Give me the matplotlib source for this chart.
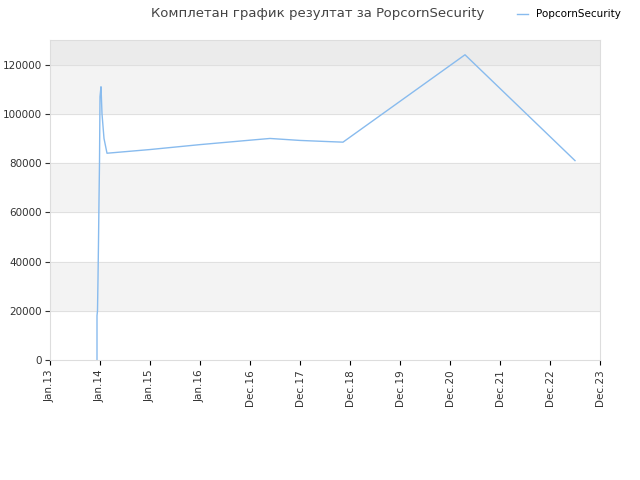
import matplotlib
matplotlib.use("Agg")
import matplotlib.pyplot as plt

tick_labels = ["Jan.13", "Jan.14", "Jan.15", "Jan.16", "Dec.16", "Dec.17",
               "Dec.18", "Dec.19", "Dec.20", "Dec.21", "Dec.22", "Dec.23"]
# x in tick units (0 = Jan.13, 1 = Jan.14, ...)
x = [0.94, 0.94, 0.95, 0.96, 0.97, 0.98, 0.99, 1.0, 1.02, 1.04, 1.08, 1.14,
     2.0, 3.0, 4.0, 4.4, 5.0, 5.6, 5.86, 8.3, 10.5]
y = [0, 18000, 20000, 33000, 48000, 65000, 80000, 107000, 111000, 100000, 90000, 84000,
     85500, 87500, 89300, 90000, 89200, 88700, 88500, 124000, 81000]

fig = plt.figure(figsize=(6.4, 4.8), dpi=100)
ax = fig.add_axes([50/640, 120/480, 550/640, 320/480])

for lo, hi, c in [(20000, 40000, "#f3f3f3"), (60000, 80000, "#f3f3f3"),
                  (100000, 120000, "#f3f3f3"), (120000, 130000, "#ebebeb")]:
    ax.axhspan(lo, hi, color=c, zorder=0)
for v in range(20000, 130000, 20000):
    ax.axhline(v, color="#dddddd", lw=0.6, zorder=1)

ax.plot(x, y, color="#88bbee", lw=1, label="PopcornSecurity", zorder=2)
ax.set_xlim(0, 11)
ax.set_ylim(0, 130000)
ax.set_xticks(range(12))
ax.set_xticklabels(tick_labels, rotation=90, fontsize=7.5, color="#333333")
ax.set_yticks(range(0, 130000, 20000))
ax.tick_params(axis="y", labelsize=7.5, colors="#333333", pad=2)
for s in ax.spines.values():
    s.set_color("#dddddd")
fig.suptitle("Комплетан график резултат за PopcornSecurity", x=0.497, y=0.985,
             fontsize=9.5, color="#444444")
fig.legend(loc="upper right", bbox_to_anchor=(0.985, 1.0), frameon=False, fontsize=7.5,
           handlelength=1)
fig.savefig("out.png")
